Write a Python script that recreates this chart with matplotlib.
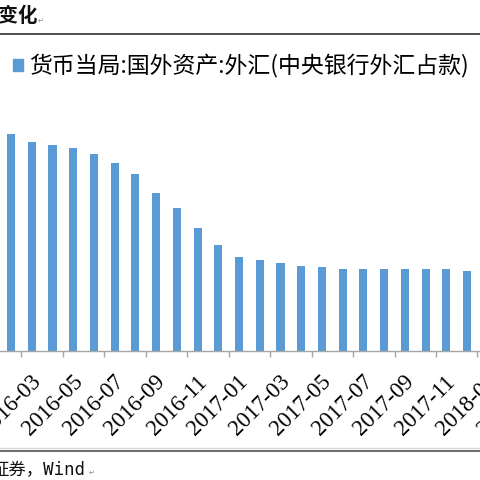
import matplotlib
matplotlib.use("Agg")
import matplotlib.pyplot as plt
from matplotlib.lines import Line2D
from matplotlib.patches import Patch
from matplotlib.transforms import ScaledTranslation
import numpy as np

plt.rcParams['font.family'] = ['Noto Sans CJK SC', 'DejaVu Sans']

months = ["2016-01", "2016-02", "2016-03", "2016-04", "2016-05", "2016-06",
          "2016-07", "2016-08", "2016-09", "2016-10", "2016-11", "2016-12",
          "2017-01", "2017-02", "2017-03", "2017-04", "2017-05", "2017-06",
          "2017-07", "2017-08", "2017-09", "2017-10", "2017-11", "2017-12",
          "2018-01", "2018-02", "2018-03"]
# 外汇占款 (亿元)
values = [244600, 243400, 241800, 241300, 240600, 239400,
          237600, 235400, 231600, 228600, 224600, 221200,
          218800, 218200, 217600, 217000, 216800, 216400,
          216400, 216400, 216400, 216400, 216400, 216000,
          215900, 215800, 215700]
series_name = "货币当局:国外资产:外汇(中央银行外汇占款)"
title_text = "度变化"
source_text = "证券，Wind"

W = H = 480
DPI = 100
fig = plt.figure(figsize=(4.8, 4.8), dpi=DPI)

n = len(months)
step = 20.73
left_px = 11 - 1.5 * step          # category index 0 center at 11 - step
width_px = n * step
base_px = 351
height_px = 250
ax = fig.add_axes([left_px / W, (H - base_px) / H, width_px / W, height_px / H])

x = np.arange(n)
bars = ax.bar(x, values, width=0.39, color="#5B9BD5", zorder=2)
ax.set_xlim(-0.5, n - 0.5)
ax.set_ylim(200000, 250000)

for s in ("left", "right", "top"):
    ax.spines[s].set_visible(False)
ax.spines["bottom"].set_color("#A6A6A6")
ax.spines["bottom"].set_linewidth(1.0)
ax.set_yticks([])

ax.set_xticks(x[::2])
ax.set_xticklabels(months[::2], rotation=45, ha="right", va="top",
                   family=["Liberation Serif"], fontsize=16.5)
ax.tick_params(axis="x", which="major", length=0, pad=6)
ax.set_xticks(np.arange(-0.5, n, 2), minor=True)
ax.tick_params(axis="x", which="minor", length=4, color="#A6A6A6", width=1)
shift = ScaledTranslation(13.5 / DPI, -12 / DPI, fig.dpi_scale_trans)
for lab in ax.get_xticklabels():
    lab.set_transform(lab.get_transform() + shift)

# legend
leg = fig.legend(handles=[Patch(color="#5B9BD5", label=series_name)],
                 loc="center left", bbox_to_anchor=(13 / W, 1 - 66 / H),
                 frameon=False, fontsize=16.5, handlelength=0.45, handleheight=0.45,
                 handletextpad=0.25, borderpad=0, borderaxespad=0)

# title fragment and rule
fig.text(-20 / W, 1 - 16 / H, title_text, fontsize=14, fontweight="bold",
         va="center", ha="left", color="#111111")
fig.text(38 / W, 1 - 21 / H, "↵", fontsize=5, va="center", ha="left", color="#888888")
fig.add_artist(Line2D([0, 1], [1 - 34 / H, 1 - 34 / H], color="#404040", lw=1.3))

# bottom rules and source
fig.add_artist(Line2D([0, 1], [1 - 447.5 / H, 1 - 447.5 / H], color="#D8D8D8", lw=1.0))
fig.add_artist(Line2D([0, 1], [1 - 451 / H, 1 - 451 / H], color="#707070", lw=1.5))
fig.text(-9 / W, 1 - 470 / H, source_text, fontsize=12.5, va="center", ha="left",
         color="#111111", family=["DejaVu Sans Mono", "Noto Sans CJK SC"])
fig.text(89 / W, 1 - 473 / H, "↵", fontsize=5, va="center", ha="left", color="#888888")

fig.savefig("out.png", dpi=DPI)
